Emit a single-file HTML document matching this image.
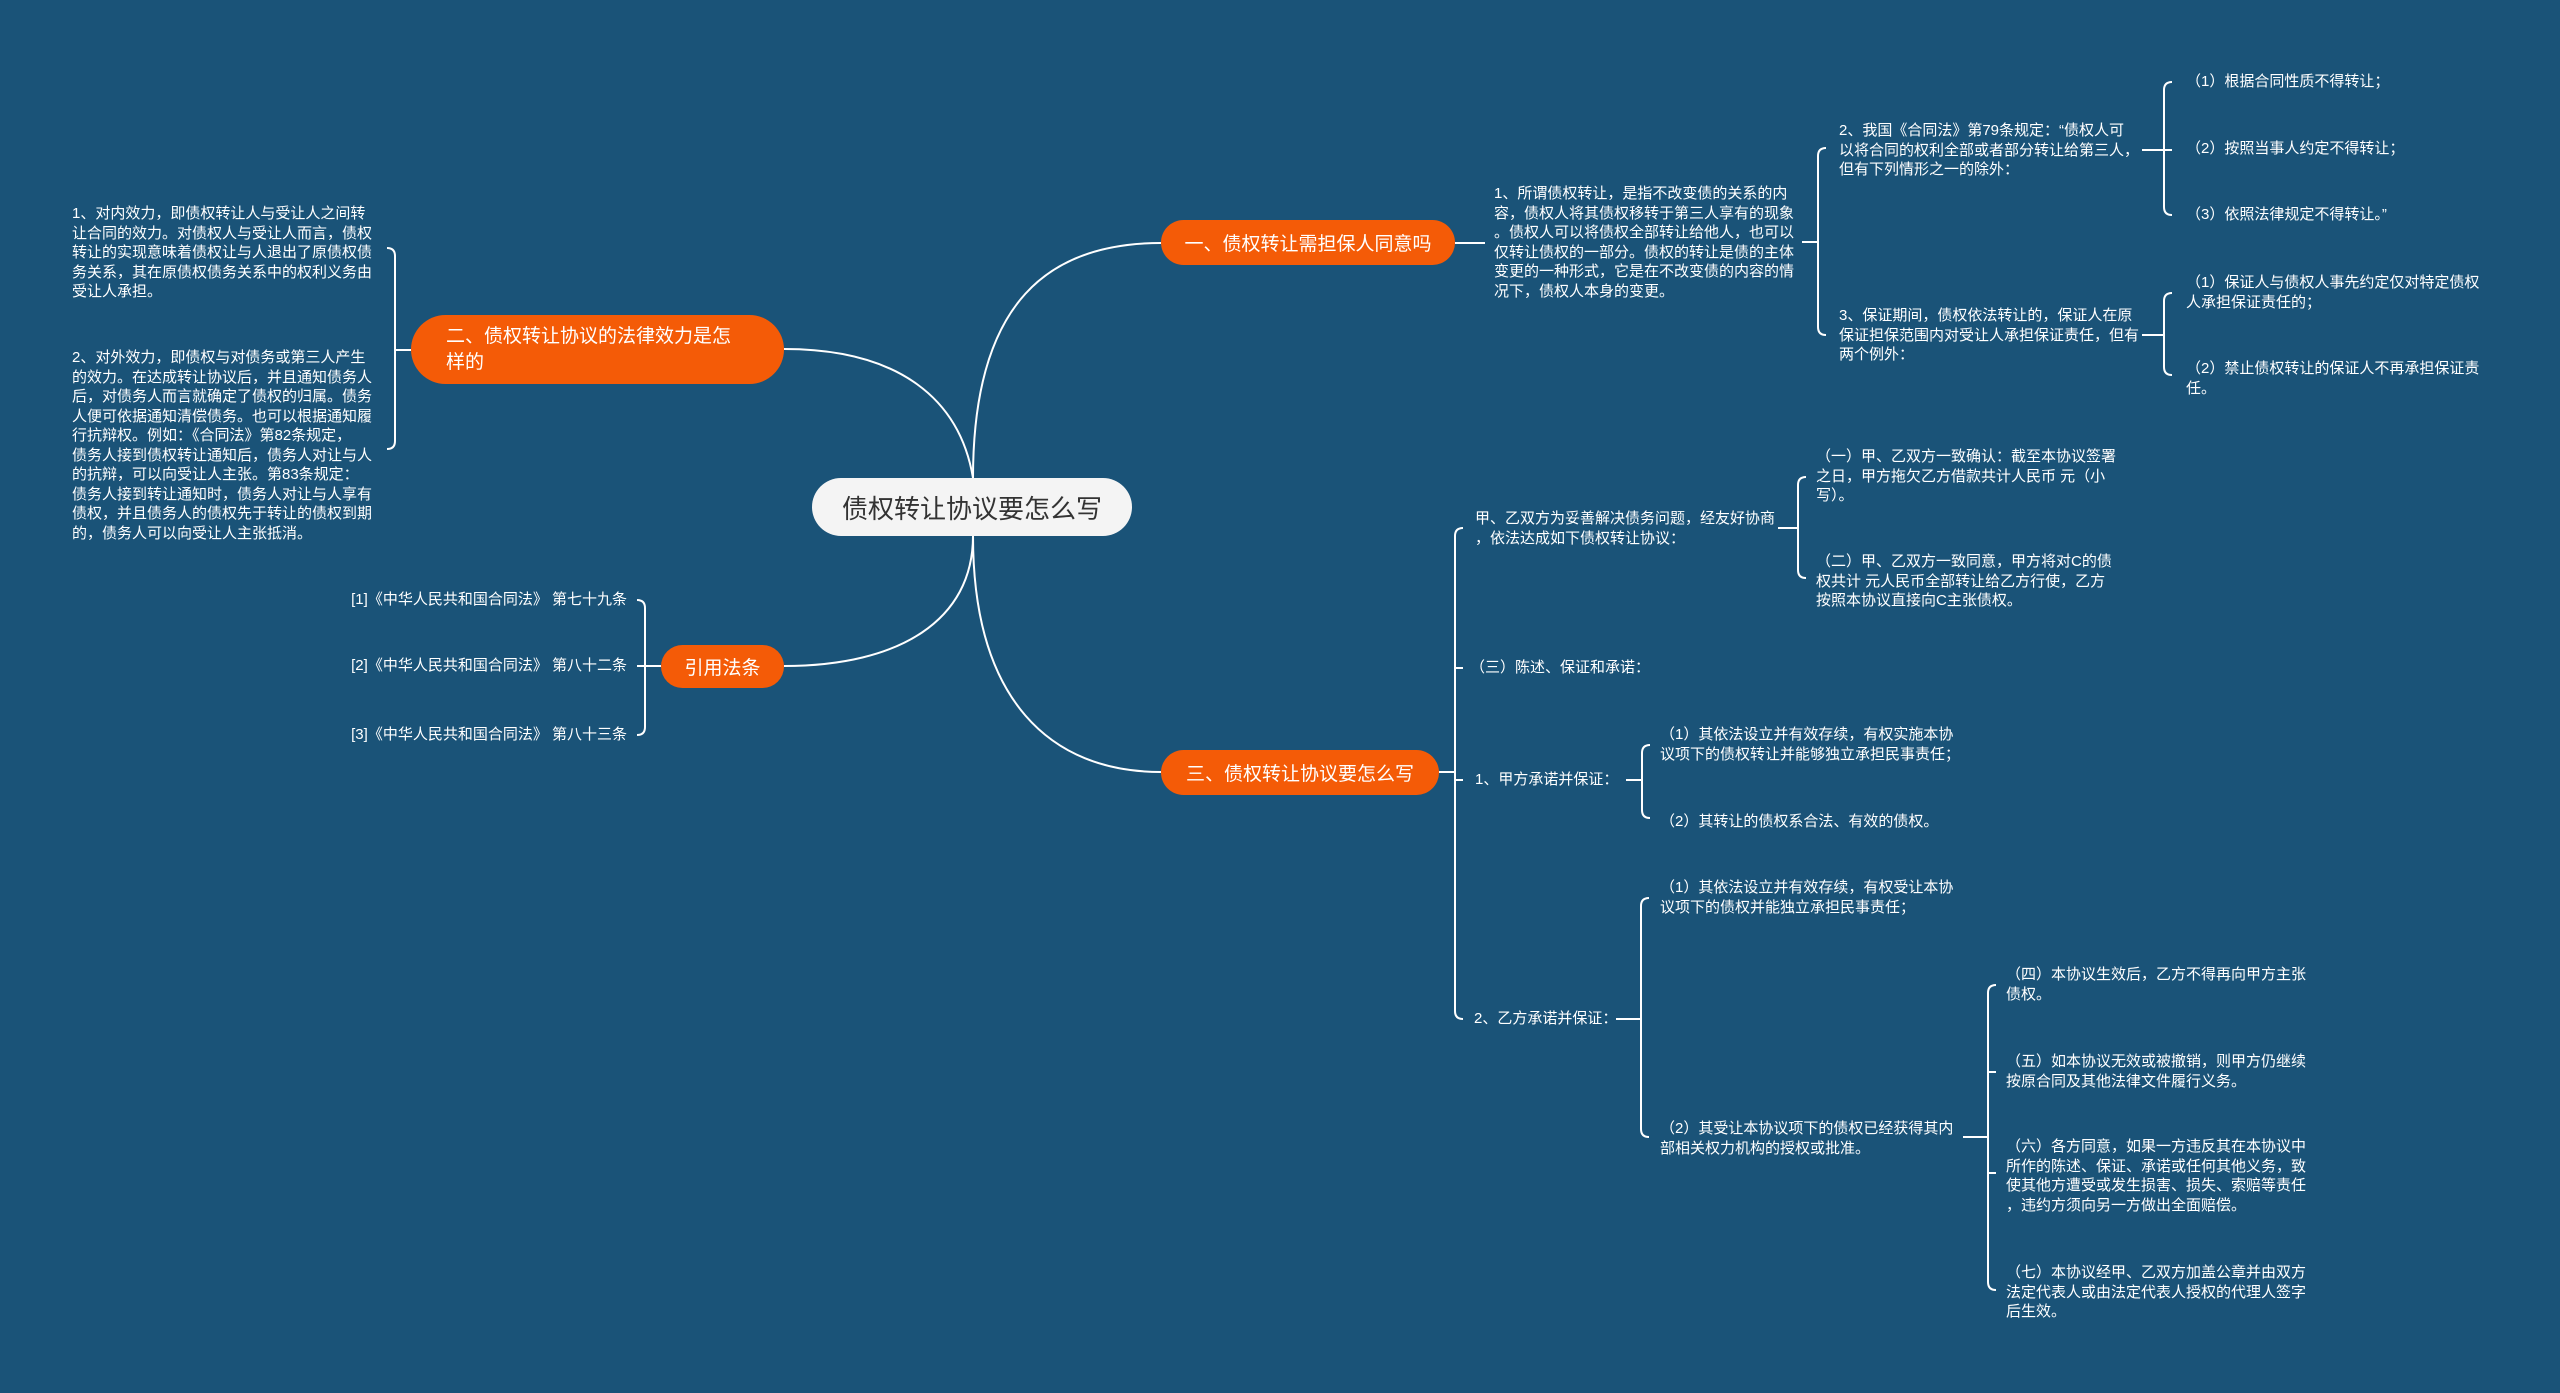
<!DOCTYPE html>
<html><head><meta charset="utf-8"><style>
html,body{margin:0;padding:0}
body{width:2560px;height:1393px;background:#1a5378;position:relative;overflow:hidden;font-family:"Liberation Sans","Noto Sans CJK SC",sans-serif}
.t{position:absolute;color:#fff;font-size:15px;line-height:19.5px;white-space:nowrap}
.r{text-align:right}
.n{position:absolute;background:#f45b07;color:#fff;font-size:19px;border-radius:24px;box-sizing:border-box;display:flex;align-items:center}
svg{position:absolute;left:0;top:0}
</style></head><body>
<svg width="2560" height="1393" fill="none" stroke="#fff" stroke-width="2">
<path d="M973,478 C973,300 1050,243 1161,243"/>
<path d="M973,478 C960,400 900,349 784,349"/>
<path d="M973,536 C973,620 900,666 784,666"/>
<path d="M973,536 C973,700 1050,772 1161,772"/>
<!-- 二 bracket -->
<path d="M411,350 L395,350 M387,248 Q395,248 395,256 L395,441 Q395,449 387,449"/>
<!-- 引用 bracket -->
<path d="M661,666 L637,666 M637,600 Q645,600 645,608 L645,727 Q645,735 637,735"/>
<!-- 一 -->
<path d="M1455,243 L1485,243 M1802,242 L1818,242 M1826,148 Q1818,148 1818,156 L1818,327 Q1818,335 1826,335"/>
<path d="M2142,150 L2164,150 L2172,150 M2172,82 Q2164,82 2164,90 L2164,207 Q2164,215 2172,215"/>
<path d="M2142,335 L2164,335 M2172,293 Q2164,293 2164,301 L2164,367 Q2164,375 2172,375"/>
<!-- 三 -->
<path d="M1439,772 L1455,772 M1463,528 Q1455,528 1455,536 L1455,1011 Q1455,1019 1463,1019 M1455,668 L1463,668 M1455,780 L1463,780"/>
<path d="M1778,528 L1798,528 M1806,477 Q1798,477 1798,485 L1798,570 Q1798,578 1806,578"/>
<path d="M1626,780 L1642,780 M1650,745 Q1642,745 1642,753 L1642,810 Q1642,818 1650,818"/>
<path d="M1616,1019 L1641,1019 M1649,898 Q1641,898 1641,906 L1641,1129 Q1641,1137 1649,1137"/>
<path d="M1963,1137 L1988,1137 M1996,985 Q1988,985 1988,993 L1988,1282 Q1988,1290 1996,1290 M1988,1072 L1996,1072 M1988,1173 L1996,1173"/>
</svg>

<div style="position:absolute;left:812px;top:478px;width:320px;height:58px;background:#f4f4f4;border-radius:29px;color:#333;font-size:26px;display:flex;align-items:center;justify-content:center">债权转让协议要怎么写</div>
<div class="n" style="left:1161px;top:220px;width:294px;height:45px;justify-content:center">一、债权转让需担保人同意吗</div>
<div class="n" style="left:411px;top:315px;width:373px;height:69px;padding-left:35px;line-height:26px;border-radius:35px">二、债权转让协议的法律效力是怎<br>样的</div>
<div class="n" style="left:661px;top:645px;width:123px;height:43px;justify-content:center">引用法条</div>
<div class="n" style="left:1161px;top:750px;width:278px;height:45px;justify-content:center">三、债权转让协议要怎么写</div>

<div class="t" style="left:72px;top:204px">1、对内效力，即债权转让人与受让人之间转<br>让合同的效力。对债权人与受让人而言，债权<br>转让的实现意味着债权让与人退出了原债权债<br>务关系，其在原债权债务关系中的权利义务由<br>受让人承担。</div>
<div class="t" style="left:72px;top:348px">2、对外效力，即债权与对债务或第三人产生<br>的效力。在达成转让协议后，并且通知债务人<br>后，对债务人而言就确定了债权的归属。债务<br>人便可依据通知清偿债务。也可以根据通知履<br>行抗辩权。例如：《合同法》第82条规定，<br>债务人接到债权转让通知后，债务人对让与人<br>的抗辩，可以向受让人主张。第83条规定：<br>债务人接到转让通知时，债务人对让与人享有<br>债权，并且债务人的债权先于转让的债权到期<br>的，债务人可以向受让人主张抵消。</div>

<div class="t r" style="right:1933px;top:590px">[1]《中华人民共和国合同法》 第七十九条</div>
<div class="t r" style="right:1933px;top:656px">[2]《中华人民共和国合同法》 第八十二条</div>
<div class="t r" style="right:1933px;top:725px">[3]《中华人民共和国合同法》 第八十三条</div>

<div class="t" style="left:1494px;top:184px">1、所谓债权转让，是指不改变债的关系的内<br>容，债权人将其债权移转于第三人享有的现象<br>。债权人可以将债权全部转让给他人，也可以<br>仅转让债权的一部分。债权的转让是债的主体<br>变更的一种形式，它是在不改变债的内容的情<br>况下，债权人本身的变更。</div>
<div class="t" style="left:1839px;top:121px">2、我国《合同法》第79条规定：“债权人可<br>以将合同的权利全部或者部分转让给第三人，<br>但有下列情形之一的除外：</div>
<div class="t" style="left:1839px;top:306px">3、保证期间，债权依法转让的，保证人在原<br>保证担保范围内对受让人承担保证责任，但有<br>两个例外：</div>
<div class="t" style="left:2186px;top:72px">（1）根据合同性质不得转让；</div>
<div class="t" style="left:2186px;top:139px">（2）按照当事人约定不得转让；</div>
<div class="t" style="left:2186px;top:205px">（3）依照法律规定不得转让。”</div>
<div class="t" style="left:2186px;top:273px">（1）保证人与债权人事先约定仅对特定债权<br>人承担保证责任的；</div>
<div class="t" style="left:2186px;top:359px">（2）禁止债权转让的保证人不再承担保证责<br>任。</div>

<div class="t" style="left:1475px;top:509px">甲、乙双方为妥善解决债务问题，经友好协商<br>，依法达成如下债权转让协议：</div>
<div class="t" style="left:1816px;top:447px">（一）甲、乙双方一致确认：截至本协议签署<br>之日，甲方拖欠乙方借款共计人民币 元（小<br>写）。</div>
<div class="t" style="left:1816px;top:552px">（二）甲、乙双方一致同意，甲方将对C的债<br>权共计 元人民币全部转让给乙方行使，乙方<br>按照本协议直接向C主张债权。</div>
<div class="t" style="left:1470px;top:658px">（三）陈述、保证和承诺：</div>
<div class="t" style="left:1475px;top:770px">1、甲方承诺并保证：</div>
<div class="t" style="left:1660px;top:725px">（1）其依法设立并有效存续，有权实施本协<br>议项下的债权转让并能够独立承担民事责任；</div>
<div class="t" style="left:1660px;top:812px">（2）其转让的债权系合法、有效的债权。</div>
<div class="t" style="left:1474px;top:1009px">2、乙方承诺并保证：</div>
<div class="t" style="left:1660px;top:878px">（1）其依法设立并有效存续，有权受让本协<br>议项下的债权并能独立承担民事责任；</div>
<div class="t" style="left:1660px;top:1119px">（2）其受让本协议项下的债权已经获得其内<br>部相关权力机构的授权或批准。</div>
<div class="t" style="left:2006px;top:965px">（四）本协议生效后，乙方不得再向甲方主张<br>债权。</div>
<div class="t" style="left:2006px;top:1052px">（五）如本协议无效或被撤销，则甲方仍继续<br>按原合同及其他法律文件履行义务。</div>
<div class="t" style="left:2006px;top:1137px">（六）各方同意，如果一方违反其在本协议中<br>所作的陈述、保证、承诺或任何其他义务，致<br>使其他方遭受或发生损害、损失、索赔等责任<br>，违约方须向另一方做出全面赔偿。</div>
<div class="t" style="left:2006px;top:1263px">（七）本协议经甲、乙双方加盖公章并由双方<br>法定代表人或由法定代表人授权的代理人签字<br>后生效。</div>
</body></html>
